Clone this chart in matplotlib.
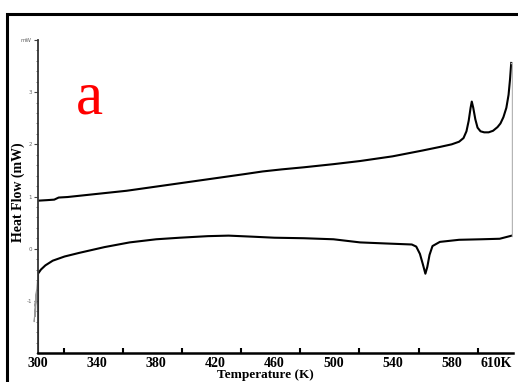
import matplotlib
matplotlib.use('Agg')
import matplotlib.pyplot as plt
from matplotlib.patches import Rectangle

# courbe du haut (chauffage) : T [K], flux [mW]
temp_heat = [300, 306, 311, 314, 320, 340, 360, 380, 400, 420, 440, 452, 465, 480, 500,
             518, 540, 560, 572, 580, 585, 588, 590, 591.5, 592.8, 593.6, 594.6, 596,
             597.5, 599.5, 602, 605, 608, 611, 613, 615, 617, 618.5, 619.5, 620.3]
flow_heat = [0.92, 0.93, 0.94, 0.98, 0.99, 1.05, 1.11, 1.19, 1.27, 1.35, 1.43, 1.48, 1.52, 1.56, 1.62,
             1.68, 1.77, 1.88, 1.95, 2.00, 2.05, 2.12, 2.25, 2.45, 2.70, 2.82, 2.70, 2.48,
             2.32, 2.25, 2.23, 2.23, 2.26, 2.33, 2.40, 2.52, 2.70, 2.95, 3.25, 3.56]

# courbe du bas (refroidissement)
temp_cool = [300, 300, 302, 305, 310, 318, 328, 345, 362, 380, 396, 415, 429, 445, 460, 480,
             500, 518, 535, 553, 556, 558.5, 560.5, 562.2, 563.5, 565, 567, 572, 585, 600, 612.5, 620.7]
flow_cool = [-2.0, -0.48, -0.40, -0.32, -0.23, -0.15, -0.08, 0.03, 0.12, 0.18, 0.21, 0.24, 0.25, 0.23, 0.21, 0.20,
             0.18, 0.12, 0.10, 0.08, 0.04, -0.10, -0.30, -0.48, -0.35, -0.12, 0.05, 0.13, 0.17, 0.18, 0.19, 0.25]

# petit artefact au démarrage
temp_spike = [299.6, 297.4, 298.6, 297.9, 299.0, 298.2]
flow_spike = [-0.62, -1.40, -0.95, -1.10, -0.80, -1.30]

xtick_vals = [300, 340, 380, 420, 460, 500, 540, 580, 610]
xtick_labels = ['300', '340', '380', '420', '460', '500', '540', '580', '610K']
ytick_vals = [-1, 0, 1, 2, 3, 4]
ytick_labels = ['-1', '0', '1', '2', '3', 'mW']

serif = ['Liberation Serif', 'DejaVu Serif']

fig = plt.figure(figsize=(5.18, 3.82), dpi=100)
ax = fig.add_axes([38/518, 29/382, 475/518, 313/382])

ax.plot(temp_heat, flow_heat, color='black', lw=1.5, solid_joinstyle='round')
ax.plot(temp_cool, flow_cool, color='black', lw=1.5, solid_joinstyle='round')
ax.plot(temp_spike, flow_spike, color='#999999', lw=0.8, clip_on=False)
ax.plot([621, 621], [flow_cool[-1], flow_heat[-1]], color='#b5b5b5', lw=1.0)
ax.plot([620.3, 621], [flow_heat[-1], flow_heat[-1]], color='#b5b5b5', lw=1.0)

ax.set_xlim(300, 621.5)
ax.set_ylim(-2, 4)

for s in ['top', 'right']:
    ax.spines[s].set_visible(False)
ax.spines['bottom'].set_linewidth(1.8)
ax.spines['left'].set_linewidth(1.3)
ax.spines['left'].set_color('#333333')

ax.set_xticks(xtick_vals)
ax.set_xticklabels(xtick_labels, fontfamily=serif, fontweight='bold', fontsize=10)
ax.set_xticks([317.6 + 40*i for i in range(8)], minor=True)
ax.tick_params(axis='x', which='major', length=0, pad=3)
ax.tick_params(axis='x', which='minor', direction='in', length=3.5, width=1.5)

ax.set_yticks(ytick_vals)
ax.set_yticklabels(ytick_labels, fontsize=4, color='#666666')
ax.set_yticks([-2 + 0.2*i for i in range(31)], minor=True)
ax.tick_params(axis='y', which='major', direction='out', length=3, width=0.8, color='#444444', pad=1.5)
ax.tick_params(axis='y', which='minor', direction='out', length=1.8, width=0.6, color='#666666')

fig.text(18/518, 1 - 192/382, 'Heat Flow (mW)', rotation=90, ha='center', va='center',
         fontfamily=serif, fontweight='bold', fontsize=10)
fig.text(265/518, 1/382, 'Temperature (K)', ha='center', va='bottom',
         fontfamily=serif, fontweight='bold', fontsize=9.5)
fig.text(89/518, 1 - 113/382, 'a', color='red', ha='center', va='baseline',
         fontfamily=serif, fontsize=44)

# cadre noir autour de la figure
fig.patches.append(Rectangle((7/518, -0.1), 1.2, 1.1 - 14/382, transform=fig.transFigure,
                             fill=False, edgecolor='black', lw=2.2))

fig.savefig('out.png', dpi=100)
